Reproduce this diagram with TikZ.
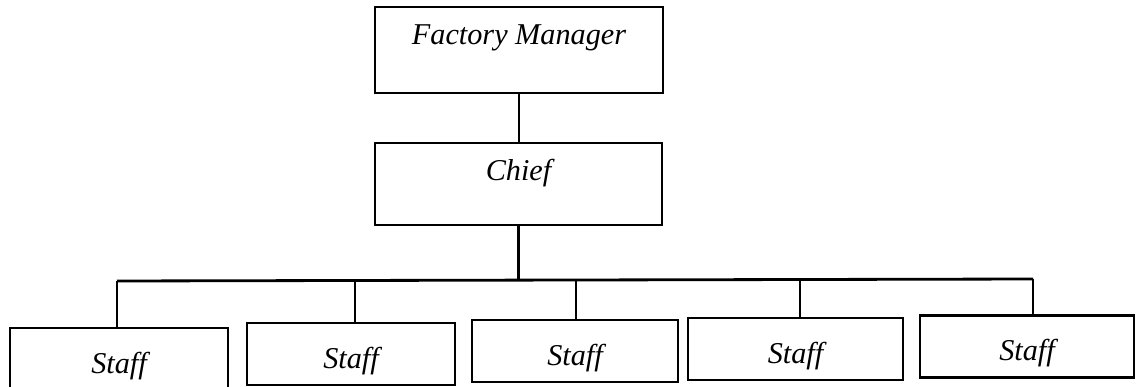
\documentclass[tikz,border=0pt]{standalone}
\usepackage{fontspec}
\setmainfont{Liberation Serif}
\usetikzlibrary{calc}

\tikzset{
  orgbox/.style={draw, line width=2pt, inner sep=0pt,
    font=\fontsize{21.5}{26}\selectfont\itshape},
  orgline/.style={line width=2pt}
}

\begin{document}
\begin{tikzpicture}[x=0.025cm,y=-0.025cm]
\useasboundingbox (0,0) rectangle (1136,387);

\node[orgbox, minimum width=7.2cm, minimum height=2.15cm, text depth=22pt] (manager) at (519,50) {Factory Manager};
\node[orgbox, minimum width=7.175cm, minimum height=2.05cm, text depth=20pt] (chief) at (518.5,184) {Chief};

\foreach \i/\x/\y/\w in {1/119/359/5.45, 2/351/354/5.2, 3/575/351/5.15, 4/795.5/349/5.375, 5/1027/346.5/5.35}  {
	\node[orgbox, minimum width=\w cm, minimum height=1.55cm, text height=20pt, text depth=0pt] (staff\i) at (\x,\y) {Staff};
}

% bus line under the chief
\coordinate (busL) at (117,281);
\coordinate (busR) at (1033,279);
\coordinate (hub) at ($(busL)!0.4367!(busR)$);

\draw[orgline] (manager.south) -- (manager.south |- chief.north);
\draw[orgline] (chief.south) -- (chief.south |- hub);
\draw[orgline] (busL) -- (busR);

\foreach \i/\x in {1/117, 2/355, 3/576, 4/800, 5/1033}  {
	\coordinate (drop\i) at ($(busL)!{(\x-117)/916}!(busR)$);
	\draw[orgline] (drop\i) -- (drop\i |- staff\i.north);
}

\end{tikzpicture}
\end{document}
